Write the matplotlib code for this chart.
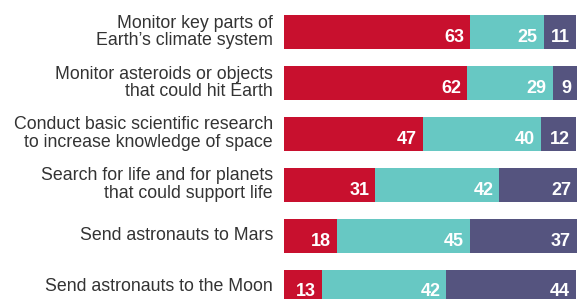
import matplotlib.pyplot as plt
import numpy as np

categories = [
    "Monitor key parts of\nEarth\u2019s climate system",
    "Monitor asteroids or objects\nthat could hit Earth",
    "Conduct basic scientific research\nto increase knowledge of space",
    "Search for life and for planets\nthat could support life",
    "Send astronauts to Mars",
    "Send astronauts to the Moon",
]
top_priority = [63, 62, 47, 31, 18, 13]
lower_priority = [25, 29, 40, 42, 45, 42]
not_priority = [11, 9, 12, 27, 37, 44]

colors = ["#c8102e", "#67c8c3", "#55547f"]

plt.rcParams['font.family'] = ['Liberation Sans', 'DejaVu Sans']

W, H = 577, 299
fig = plt.figure(figsize=(W / 100, H / 100), dpi=100)
ax = fig.add_axes([284 / W, 0, (W - 284) / W, 1])

y = np.arange(len(categories))
height = 34 / 50.9
left = np.zeros(len(categories))
for vals, c in zip([top_priority, lower_priority, not_priority], colors):
    vals = np.array(vals)
    ax.barh(y, vals, left=left, height=height, color=c, linewidth=0)
    for yi, l, v in zip(y, left, vals):
        end = min(l + v, 99.3)
        ax.annotate(str(v), (end, yi), xytext=(-6, -10),
                    textcoords='offset pixels', ha='right', va='baseline',
                    color='white', fontsize=13, fontweight='bold',
                    annotation_clip=False)
    left = left + vals

ax.set_xlim(0, 99.3)
ax.set_ylim((299 - 32) / 50.9, -32 / 50.9)
ax.axis('off')

for yi, cat in zip(y, categories):
    ax.annotate(cat, (0, yi), xytext=(-11, 0), textcoords='offset pixels',
                ha='right', va='center', multialignment='right',
                fontsize=12.8, color='#333333', linespacing=1.05,
                annotation_clip=False)

fig.savefig('out.png', dpi=100)
